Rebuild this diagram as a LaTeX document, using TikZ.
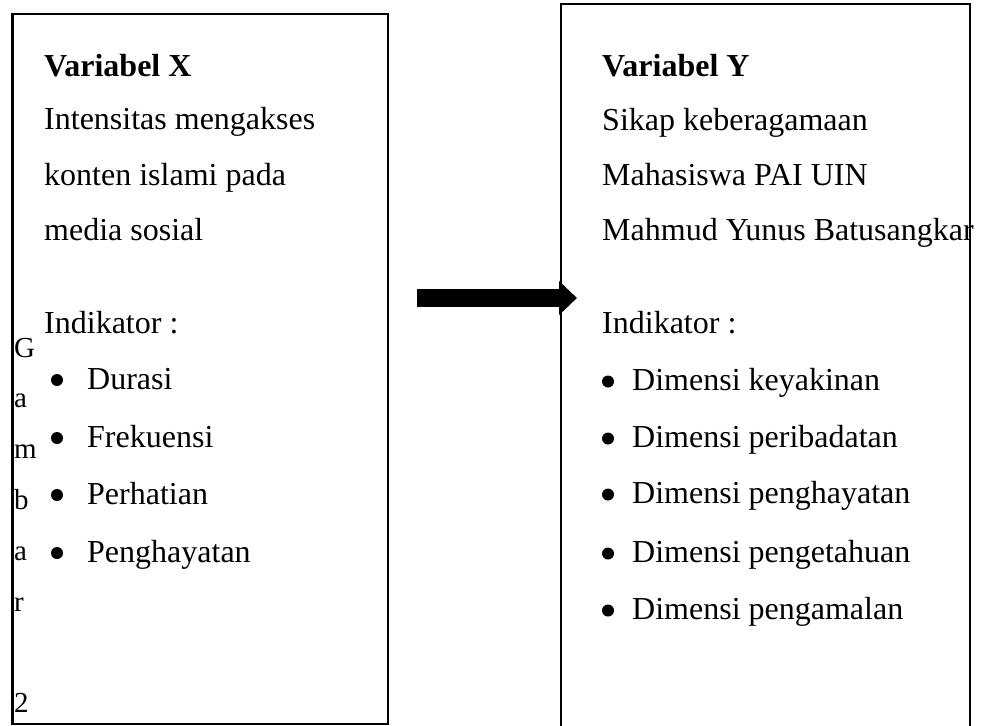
\documentclass[tikz,border=0pt]{standalone}
\usepackage{fontspec}
\setmainfont{Liberation Serif}
\usepackage{tikz}
\usetikzlibrary{arrows.meta}
\tikzset{
dot/.style = {circle, fill, minimum size=#1,
              inner sep=0pt, outer sep=0pt},
dot/.default = 12pt % size of the bullet
}
\tikzset{
varbox/.style = {rectangle, draw=black, line width=2.5pt, inner sep=0pt}
}
\tikzset{
txt/.style = {anchor=base west, inner sep=0pt, font=\fontsize{32}{38}\selectfont},
lbl/.style = {anchor=base west, inner sep=0pt, font=\fontsize{29}{34}\selectfont}
}

\begin{document}
\begin{tikzpicture}[x=1pt, y=-1pt]
\useasboundingbox (0,0) rectangle (984,725);
\clip (0,0) rectangle (984,725);

% the two boxes
\node[varbox, minimum width=375.5, minimum height=710] (boxX) at (200.25,369) {};
\node[varbox, minimum width=409, minimum height=756] (boxY) at (765.5,382) {};

% left box
\node[txt] (varX) at (44,76) {\textbf{Variabel X}};
\node[txt] (descX1) at (44,129) {Intensitas mengakses};
\node[txt] (descX2) at (44,185) {konten islami pada};
\node[txt] (descX3) at (44,240) {media sosial};
\node[txt] (indX) at (44,333) {Indikator :};
\foreach \name/\y [count=\i] in {Durasi/389, Frekuensi/447, Perhatian/504, Penghayatan/562}{
  \node[dot] (dotX\i) at (57,\y-9) {};
  \node[txt] (itemX\i) at (87,\y) {\name};
}

% caption letters along the left edge
\foreach \ch/\row in {G/0, a/1, m/2, b/3, a/4, r/5, 2/7}{
  \node[lbl] (cap\row) at (14,357+50.8*\row) {\ch};
}

% right box
\node[txt] (varY) at (602,76) {\textbf{Variabel Y}};
\node[txt] (descY1) at (602,130) {Sikap keberagamaan};
\node[txt] (descY2) at (602,185) {Mahasiswa PAI UIN};
\node[txt] (descY3) at (602,240) {Mahmud Yunus Batusangkar};
\node[txt] (indY) at (602,333) {Indikator :};
\foreach \name/\y [count=\i] in {keyakinan/390, peribadatan/447, penghayatan/503, pengetahuan/562, pengamalan/619}{
  \node[dot] (dotY\i) at (608,\y-8.5) {};
  \node[txt] (itemY\i) at (632,\y) {Dimensi \name};
}

% block arrow
\coordinate (arrStart) at (417,298);
\coordinate (arrEnd) at (577,298);
\draw[line width=18pt, -{Triangle[length=18pt, width=33pt]}] (arrStart) -- (arrEnd);
\end{tikzpicture}
\end{document}
